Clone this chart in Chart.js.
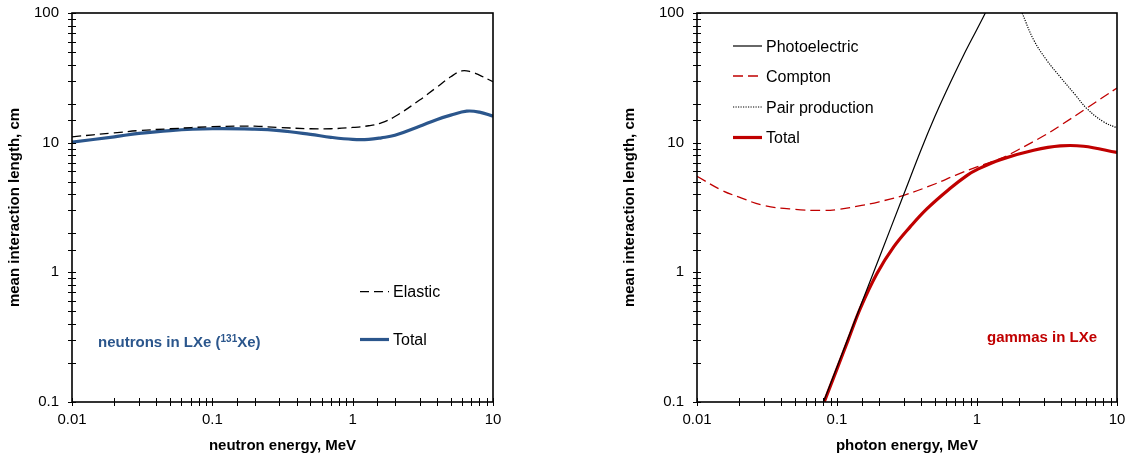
<!DOCTYPE html>
<html>
<head>
<meta charset="utf-8">
<script src="https://cdn.jsdelivr.net/npm/chart.js@4.4.1/dist/chart.umd.min.js"></script>
<style>
  body { margin: 0; background: #fff; }
  .wrap { position: absolute; top: 0; width: 564px; height: 456px; }
</style>
</head>
<body>
<div class="wrap" style="left:0"><canvas id="neutronChart" width="564" height="456"></canvas></div>
<div class="wrap" style="left:564px"><canvas id="gammaChart" width="564" height="456"></canvas></div>
<script>
// neutrons in LXe
const neutronEnergy = [0.01, 0.02, 0.03, 0.05, 0.1, 0.15, 0.2, 0.3, 0.5, 0.7, 1, 1.3, 1.6, 2, 3, 4, 5, 6, 7, 8, 10];
const elasticLength = [11.1, 11.9, 12.4, 12.8, 13.3, 13.4, 13.4, 13.1, 12.8, 12.8, 13.1, 13.5, 14.2, 15.9, 21.3, 26.9, 32.2, 35.8, 35.2, 33.2, 29.5];
const neutronTotalEnergy = [0.01, 0.02, 0.03, 0.05, 0.1, 0.2, 0.3, 0.5, 0.7, 1, 1.3, 1.6, 2, 3, 4, 5, 6.5, 8, 10];
const neutronTotalLength = [10.1, 11.1, 11.8, 12.4, 12.8, 12.7, 12.4, 11.6, 11.0, 10.6, 10.6, 10.9, 11.4, 13.4, 15.1, 16.3, 17.5, 17.2, 16.0];

// gammas in LXe
const photoEnergy = [0.08, 0.1, 0.15, 0.2, 0.3, 0.4, 0.5, 0.6, 0.8, 1, 1.2];
const photoLength = [0.1, 0.186, 0.58, 1.29, 4.0, 8.9, 15.9, 24.6, 47, 75, 110];
const comptonEnergy = [0.01, 0.015, 0.02, 0.03, 0.05, 0.08, 0.1, 0.15, 0.2, 0.3, 0.5, 0.7, 1, 1.5, 2, 3, 4, 6, 10];
const comptonLength = [5.5, 4.3, 3.8, 3.28, 3.06, 3.0, 3.05, 3.28, 3.5, 3.93, 4.8, 5.6, 6.5, 7.6, 8.9, 11.3, 13.7, 18.3, 26.4];
const pairEnergy = [2.1, 2.54, 3.16, 3.94, 5, 6.1, 8, 10];
const pairLength = [100, 62, 43, 32, 23.6, 18.3, 14.5, 13];
const gammaTotalEnergy = [0.081, 0.1, 0.12, 0.147, 0.193, 0.254, 0.334, 0.44, 0.644, 0.85, 1, 1.47, 2.54, 3.93, 5.77, 10];
const gammaTotalLength = [0.1, 0.18, 0.3, 0.53, 0.98, 1.57, 2.25, 3.1, 4.45, 5.6, 6.2, 7.4, 8.73, 9.44, 9.38, 8.4];

const decadeValues = [0.01, 0.1, 1, 10, 100];
const decadeLabels = ['0.01', '0.1', '1', '10', '100'];

const FONT = 'Liberation Sans, Arial, sans-serif';
const BLUE = '#2B568C';
const RED = '#C00000';

Chart.defaults.color = '#000';
Chart.defaults.font.family = FONT;

function decadeLabel(value) {
    const i = decadeValues.findIndex(d => Math.abs(d - value) / d < 1e-6);
    return i >= 0 ? decadeLabels[i] : '';
}

function pts(xs, ys) {
    return xs.map((x, i) => ({ x: x, y: ys[i] }));
}

// crossing tick marks, frame, legend and label
const framePlugin = {
    id: 'frame',
    afterDraw(chart, args, opts) {
        const { ctx, chartArea: a, scales } = chart;
        ctx.save();
        ctx.strokeStyle = '#000';
        ctx.lineWidth = 1;
        scales.x.ticks.forEach(t => {
            const px = Math.round(scales.x.getPixelForValue(t.value)) + 0.5;
            ctx.beginPath();
            ctx.moveTo(px, a.bottom - 4);
            ctx.lineTo(px, a.bottom + 4);
            ctx.stroke();
        });
        scales.y.ticks.forEach(t => {
            const py = Math.round(scales.y.getPixelForValue(t.value)) + 0.5;
            ctx.beginPath();
            ctx.moveTo(a.left - 4, py);
            ctx.lineTo(a.left + 4, py);
            ctx.stroke();
        });
        ctx.lineWidth = 1.6;
        ctx.strokeRect(a.left, a.top, a.right - a.left, a.bottom - a.top);

        // legend
        (opts.legend || []).forEach(item => {
            ctx.beginPath();
            ctx.setLineDash(item.dash || []);
            ctx.strokeStyle = item.color;
            ctx.lineWidth = item.width;
            ctx.moveTo(item.x, item.y);
            ctx.lineTo(item.x + 29, item.y);
            ctx.stroke();
            ctx.setLineDash([]);
            ctx.fillStyle = '#000';
            ctx.font = '16px ' + FONT;
            ctx.textBaseline = 'alphabetic';
            ctx.fillText(item.text, item.x + 33, item.y + 5.5);
        });

        // label
        const lab = opts.label;
        if (lab) {
            ctx.fillStyle = lab.color;
            ctx.textBaseline = 'alphabetic';
            let x = lab.x;
            lab.parts.forEach(p => {
                ctx.font = 'bold ' + (p.sup ? 10 : 15) + 'px ' + FONT;
                ctx.fillText(p.text, x, lab.y - (p.sup ? 5 : 0));
                x += ctx.measureText(p.text).width;
            });
        }
        ctx.restore();
    }
};

function makeChart(id, datasets, xTitle, layout, extras) {
    const ctx = document.getElementById(id).getContext('2d');
    return new Chart(ctx, {
        type: 'line',
        data: { datasets: datasets },
        options: {
            responsive: false,
            animation: false,
            layout: { padding: { left: 0, top: 13, right: layout.right, bottom: 0 } },
            elements: { point: { radius: 0 }, line: { tension: 0.4 } },
            plugins: { legend: { display: false }, tooltip: { enabled: false }, frame: extras },
            scales: {
                x: {
                    type: 'logarithmic',
                    min: 0.01,
                    max: 10,
                    grid: { display: false, drawTicks: false },
                    border: { display: false },
                    ticks: { autoSkip: false, maxRotation: 0, minRotation: 0, padding: 9, font: { size: 15 }, color: '#000', callback: decadeLabel },
                    title: { display: true, text: xTitle, font: { size: 15, weight: 'bold' }, color: '#000', padding: { top: 0, bottom: 1 } },
                    afterFit: s => { s.height = 54; s.paddingLeft = 0; s.paddingRight = 0; }
                },
                y: {
                    type: 'logarithmic',
                    min: 0.1,
                    max: 100,
                    grid: { display: false, drawTicks: false },
                    border: { display: false },
                    ticks: { autoSkip: false, padding: 13, font: { size: 15 }, color: '#000', callback: decadeLabel },
                    title: { display: true, text: 'mean interaction length, cm', font: { size: 15, weight: 'bold' }, color: '#000', padding: { top: layout.yTitle, bottom: 0 } },
                    afterFit: s => { s.width = layout.yWidth; s.paddingTop = 0; s.paddingBottom = 0; }
                }
            }
        },
        plugins: [framePlugin]
    });
}

makeChart('neutronChart', [
    { label: 'Elastic', data: pts(neutronEnergy, elasticLength), borderColor: '#000', borderWidth: 1.3, borderDash: [9, 5], clip: 0 },
    { label: 'Total', data: pts(neutronTotalEnergy, neutronTotalLength), borderColor: BLUE, borderWidth: 3.2, clip: 0 }
], 'neutron energy, MeV', { right: 71, yWidth: 72, yTitle: 6 }, {
    legend: [
        { text: 'Elastic', color: '#000', width: 1.3, dash: [9, 5], x: 360, y: 291.7 },
        { text: 'Total', color: BLUE, width: 3.2, x: 360, y: 339.5 }
    ],
    label: { x: 98, y: 346.5, color: BLUE, parts: [{ text: 'neutrons in LXe (' }, { text: '131', sup: true }, { text: 'Xe)' }] }
});

makeChart('gammaChart', [
    { label: 'Photoelectric', data: pts(photoEnergy, photoLength), borderColor: '#000', borderWidth: 1.2, clip: 0 },
    { label: 'Compton', data: pts(comptonEnergy, comptonLength), borderColor: RED, borderWidth: 1.3, borderDash: [10, 5], clip: 0 },
    { label: 'Pair production', data: pts(pairEnergy, pairLength), borderColor: '#000', borderWidth: 1.2, borderDash: [1.2, 1.3], clip: 0 },
    { label: 'Total', data: pts(gammaTotalEnergy, gammaTotalLength), borderColor: RED, borderWidth: 3.2, clip: 0 }
], 'photon energy, MeV', { right: 11, yWidth: 133, yTitle: 57 }, {
    legend: [
        { text: 'Photoelectric', color: '#000', width: 1.2, x: 169, y: 46 },
        { text: 'Compton', color: RED, width: 1.3, dash: [10, 5], x: 169, y: 76 },
        { text: 'Pair production', color: '#000', width: 1.2, dash: [1.2, 1.3], x: 169, y: 107 },
        { text: 'Total', color: RED, width: 3.2, x: 169, y: 137.5 }
    ],
    label: { x: 423, y: 342, color: RED, parts: [{ text: 'gammas in LXe' }] }
});
</script>
</body>
</html>
